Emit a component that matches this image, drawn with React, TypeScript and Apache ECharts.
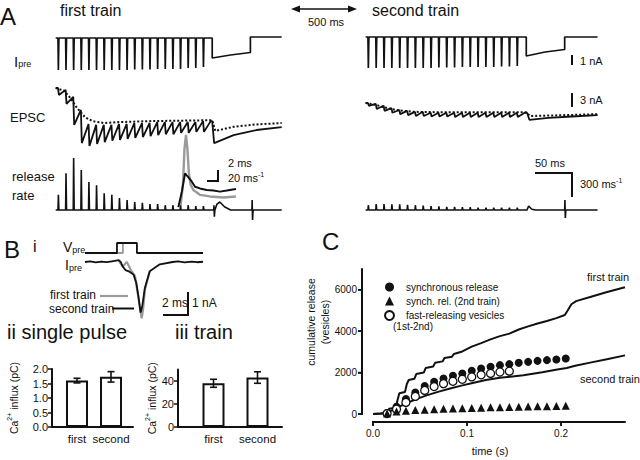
import React, { useEffect, useRef } from "react";
import * as echarts from "echarts";

const FONT = "'Liberation Sans', Arial, sans-serif";
const INK = "#111";
const GRAY = "#9a9a9a";

// ---------------- Panel A (ms, nA, ms^-1) ----------------
const stimTimes = [0, 10, 20, 30, 40, 50, 60, 70, 80, 90, 100, 110, 120, 130, 140, 150, 160, 170, 180, 190];
const ipreAmp1 = [3.2, 3.2, 3.2, 3.2, 3.2, 3.2, 3.2, 3.2, 3.2, 3.2, 3.15, 3.15, 3.15, 3.1, 3.1, 3.1, 3.1, 3.0, 3.0, 2.9];
const ipreAmp2 = [3.1, 3.1, 3.1, 3.1, 3.1, 3.1, 3.1, 3.1, 3.1, 3.05, 3.05, 3.05, 3.0, 3.0, 3.0, 3.0, 3.0, 2.95, 2.95, 2.9];
const ipreTail1 = [[196, 0], [202, 0], [202, -2.0], [226, -1.7], [252, -1.45], [252, 0.1], [293, 0.1]];
const ipreTail2 = [[196, 0], [202, 0], [202, -1.9], [226, -1.5], [251, -1.25], [251, 0], [293, 0]];

const epscPre1 = [0, -0.4, -1.9, -4.7, -7.7, -7.9, -7.9, -7.9, -7.7, -7.7, -7.5, -7.5, -7.5, -7.3, -7.3, -7.3, -7.3, -7.3, -7.3, -7.1];
const epscTrough1 = [-1.5, -3.4, -7.9, -11.8, -12.4, -12.0, -11.6, -11.3, -11.1, -10.9, -10.7, -10.5, -10.3, -10.1, -9.9, -9.9, -9.6, -9.6, -9.4, -9.4];
const epscTail1 = [[200, -7.1], [202, -7.1], [204.5, -11.8], [230, -10.1], [260, -9.0], [293, -8.4]];
const epscDot1 = [[-3, 0], [8, -0.6], [15, -1.9], [25, -4.3], [35, -6.2], [45, -7.1], [60, -7.5], [80, -7.3], [120, -7.1], [160, -7.0], [202, -6.9], [206, -9.2], [230, -8.3], [260, -7.8], [293, -7.5]];

const epscPre2 = [0, -0.2, -0.6, -1.1, -1.5, -1.7, -1.9, -1.9, -2.1, -2.1, -2.1, -2.1, -2.1, -2.1, -2.1, -2.1, -2.1, -2.1, -2.1, -2.1];
const epscTrough2 = [-0.6, -1.3, -1.7, -2.1, -2.4, -2.6, -2.8, -2.8, -2.9, -2.9, -2.9, -3.0, -3.0, -3.0, -3.0, -3.0, -3.0, -3.0, -3.0, -3.0];
const epscTail2 = [[200, -2.1], [203, -2.1], [206, -3.6], [230, -3.2], [260, -2.9], [293, -2.6]];
const epscDot2 = [[-3, 0], [10, -0.4], [20, -0.9], [30, -1.3], [40, -1.6], [60, -1.9], [100, -2.0], [202, -2.0], [207, -2.8], [230, -2.7], [293, -2.4]];

const relPeak1 = [190, 460, 650, 500, 350, 310, 210, 190, 150, 125, 100, 90, 75, 75, 60, 60, 60, 60, 50, 50];
const relTail1 = [[192, 0], [204, 0], [204.3, 60], [204.8, -85], [205.5, 0], [208, 70], [212, 100], [218, 40], [226, 0], [254, 0], [254.3, 125], [254.8, -125], [255.5, 0], [293, 0]];
const relPeak2 = [60, 75, 75, 70, 70, 65, 60, 55, 50, 45, 40, 40, 35, 35, 30, 30, 30, 30, 30, 30];
const relTail2 = [[192, 0], [203, 0], [205, 50], [209, 10], [214, 0], [251, 0], [251.3, 125], [251.8, -100], [252.5, 0], [293, 0]];

const insetGray = [[0.8, 0], [1.2, 40], [1.45, 105], [1.71, 131], [1.95, 105], [2.2, 60], [2.5, 38], [2.96, 28], [4.1, 19], [5.8, 16], [8.1, 14], [10.25, 16]];
const insetBlack = [[0.4, -4], [1.0, 25], [1.54, 59], [2.1, 52], [2.68, 44], [3.25, 34], [4.1, 31], [5.25, 28], [6.4, 27], [7.5, 25], [8.7, 27], [10.25, 30]];

// ---------------- Panel B i (ms, V step, nA) ----------------
const vpreBlack = [[0, 0], [2.37, 0], [2.37, 1], [3.85, 1], [3.85, 0], [8.75, 0]];
const vpreGray = [[2.37, 0], [2.81, 0], [2.81, 1], [3.85, 1]];
const ipreB_black = [[0, 0], [0.4, 0.03], [0.8, -0.02], [1.2, 0.02], [1.6, -0.01], [2.0, 0.03], [2.3, 0.06], [2.5, 0.08], [2.65, 0], [2.8, -0.2], [3.0, -0.35], [3.3, -0.42], [3.6, -0.55], [3.8, -0.9], [3.95, -1.45], [4.12, -2.2], [4.25, -1.9], [4.44, -1.13], [4.8, -0.4], [5.55, -0.1], [6.5, 0], [6.9, 0.03], [7.4, -0.02], [7.9, 0.02], [8.3, -0.01], [8.75, 0.01]];
const ipreB_gray = [[2.5, 0.05], [2.8, -0.2], [3.1, 0], [3.4, -0.35], [3.7, -0.6], [3.95, -1.5], [4.2, -2.45], [4.3, -2.1], [4.44, -1.2], [4.8, -0.4]];

// ---------------- Panel B ii / iii ----------------
const barCats = ["first", "second"];
const pulseMean = [1.6, 1.73];
const pulseErr = [0.08, 0.18];
const trainMean = [38, 43];
const trainErr = [3.5, 5];

// ---------------- Panel C (s, vesicles) ----------------
const firstTrainCum = [[0, 0], [0.008, 20], [0.015, 60], [0.017, 250], [0.024, 300], [0.026, 650], [0.028, 1000], [0.034, 1060], [0.036, 1450], [0.038, 1640], [0.044, 1700], [0.046, 1930], [0.054, 2000], [0.056, 2220], [0.064, 2290], [0.066, 2470], [0.074, 2540], [0.076, 2700], [0.084, 2760], [0.086, 2900], [0.095, 3020], [0.105, 3250], [0.115, 3420], [0.125, 3600], [0.135, 3760], [0.145, 3880], [0.155, 4080], [0.165, 4230], [0.175, 4370], [0.185, 4490], [0.195, 4630], [0.204, 4780], [0.207, 5000], [0.211, 5300], [0.216, 5450], [0.231, 5650], [0.249, 5890], [0.268, 6120]];
const secondTrainCum = [[0, 0], [0.01, 30], [0.02, 170], [0.027, 330], [0.036, 530], [0.046, 720], [0.057, 900], [0.07, 1080], [0.082, 1230], [0.094, 1370], [0.106, 1500], [0.12, 1640], [0.135, 1750], [0.16, 1870], [0.18, 2020], [0.196, 2150], [0.206, 2220], [0.215, 2330], [0.231, 2480], [0.25, 2660], [0.268, 2830]];
const stimTimesC = [0.015, 0.025, 0.035, 0.045, 0.055, 0.065, 0.075, 0.085, 0.095, 0.105, 0.115, 0.125, 0.135, 0.145, 0.155, 0.165, 0.175, 0.185, 0.195, 0.205];
const syncRelease = [50, 350, 720, 1040, 1350, 1556, 1716, 1845, 1957, 2085, 2197, 2278, 2358, 2406, 2470, 2518, 2566, 2600, 2630, 2680];
const syncRelease2nd = [30, 120, 160, 190, 210, 230, 250, 265, 280, 295, 305, 320, 330, 340, 350, 360, 370, 380, 390, 400];
const fastReleasing = [20, 230, 560, 850, 1140, 1326, 1466, 1580, 1677, 1790, 1892, 1958, 2028, 2066];
const cTimeTicks = [0, 0.1, 0.2];
const cReleaseTicks = [0, 2000, 4000, 6000];
const cTimeMax = 0.268;
const cReleaseMax = 7000;

// panel C plot box (pixels)
const C_LEFT = 373;
const C_TOP = 269;
const C_W = 252;
const C_H = 145;

function spikeTrain(times: number[], amps: number[], sign: number) {
  const pts: number[][] = [[-3, 0]];
  times.forEach((t, i) => {
    pts.push([t, 0], [t + 0.5, sign * amps[i]], [t + 1.2, 0]);
  });
  return pts;
}
function sawtooth(times: number[], pre: number[], trough: number[]) {
  const pts: number[][] = [[-3, 0]];
  times.forEach((t, i) => {
    pts.push([t, pre[i]], [t + 1.2, trough[i]]);
  });
  return pts;
}

function buildOption() {
  const grid: any[] = [];
  const xAxis: any[] = [];
  const yAxis: any[] = [];
  const series: any[] = [];
  const add = (box: any, xa: any, ya: any) => {
    const i = grid.length;
    grid.push({ ...box, containLabel: false, outerBoundsMode: "none" });
    xAxis.push({ gridIndex: i, ...xa });
    yAxis.push({ gridIndex: i, ...ya });
    return i;
  };
  const hid = (min: number, max: number) => ({ type: "value", min, max, show: false });
  const trace = (i: number, data: any[], color: string, width: number, extra: any = {}, z = 3) =>
    series.push({
      type: "line", xAxisIndex: i, yAxisIndex: i, data, showSymbol: false, symbol: "none",
      clip: false, silent: true, animation: false, z,
      lineStyle: { color, width, ...extra },
    });

  const visAxis = (min: number, max: number, interval: number, fmt: (v: number) => string, labels: any, extra: any = {}) => ({
    type: "value", min, max, interval,
    axisLine: { show: true, onZero: false, lineStyle: { color: INK, width: 2 } },
    axisTick: { show: true, length: 4, lineStyle: { color: INK, width: 1.5 } },
    axisLabel: { color: INK, fontFamily: FONT, formatter: fmt, ...labels },
    splitLine: { show: false },
    ...extra,
  });
  const lineOnly = (min: number, max: number, showLine: boolean) => ({
    type: "value", min, max,
    axisLine: { show: showLine, onZero: false, lineStyle: { color: INK, width: 2 } },
    axisTick: { show: false }, axisLabel: { show: false }, splitLine: { show: false },
  });

  // Panel A grids
  const gI1 = add({ left: 55.7, top: 32, width: 226, height: 42 }, hid(-3, 293), hid(-3.6, 0.6));
  const gI2 = add({ left: 365.6, top: 31, width: 232, height: 42 }, hid(-3, 293), hid(-3.6, 0.6));
  const gE1 = add({ left: 55.7, top: 83.3, width: 226, height: 65.4 }, hid(-3, 293), hid(-13, 1));
  const gE2 = add({ left: 365.6, top: 98.3, width: 232, height: 65.4 }, hid(-3, 293), hid(-13, 1));
  const gR1 = add({ left: 55.7, top: 146, width: 226, height: 76 }, hid(-3, 293), hid(-150, 800));
  const gR2 = add({ left: 365.6, top: 146, width: 232, height: 76 }, hid(-3, 293), hid(-150, 800));
  const gIn = add({ left: 176, top: 130.1, width: 62, height: 85.6 }, hid(0, 10.6), hid(-20, 140));

  trace(gI1, [...spikeTrain(stimTimes, ipreAmp1, -1), ...ipreTail1], INK, 1.7);
  trace(gI2, [...spikeTrain(stimTimes, ipreAmp2, -1), ...ipreTail2], INK, 1.7);
  trace(gE1, epscDot1, INK, 2, { type: "dotted" });
  trace(gE1, [...sawtooth(stimTimes, epscPre1, epscTrough1), ...epscTail1], INK, 1.8);
  trace(gE2, epscDot2, INK, 2, { type: "dotted" });
  trace(gE2, [...sawtooth(stimTimes, epscPre2, epscTrough2), ...epscTail2], INK, 1.8);
  trace(gR1, [...spikeTrain(stimTimes, relPeak1, 1), ...relTail1], INK, 1.6);
  trace(gR2, [...spikeTrain(stimTimes, relPeak2, 1), ...relTail2], INK, 1.6);
  trace(gIn, insetGray, GRAY, 2.4, {}, 4);
  trace(gIn, insetBlack, INK, 2, {}, 5);

  // Panel B i
  const gV = add({ left: 85, top: 240, width: 118, height: 16 }, hid(0, 8.75), hid(-0.3, 1.3));
  const gBI = add({ left: 85, top: 252.8, width: 118, height: 69 }, hid(0, 8.75), hid(-2.6, 0.4));
  trace(gV, vpreGray, GRAY, 1.8, {}, 3);
  trace(gV, vpreBlack, INK, 1.8, {}, 4);
  trace(gBI, ipreB_gray, GRAY, 2.2, {}, 3);
  trace(gBI, ipreB_black, INK, 1.8, {}, 4);

  const caName = "{n|Ca}{s|2+}{n| influx (pC)}";
  const caRich = {
    n: { fontSize: 10.5, fontFamily: FONT, color: INK, verticalAlign: "bottom", lineHeight: 13 },
    s: { fontSize: 7, fontFamily: FONT, color: INK, verticalAlign: "top", lineHeight: 13 },
  };
  const caNameOpts = (gap: number) => ({
    name: caName, nameLocation: "middle", nameGap: gap, nameRotate: 90, nameTextStyle: { rich: caRich },
  });
  const catX = {
    type: "category", data: barCats,
    axisLine: { show: false }, axisTick: { show: false },
    axisLabel: { interval: 0, hideOverlap: false, fontSize: 11.5, margin: 6, color: INK, fontFamily: FONT },
  };
  const errorSeries = (gi: number, mean: number[], err: number[]) => ({
    type: "custom", xAxisIndex: gi, yAxisIndex: gi, z: 6, silent: true,
    data: mean.map((m, i) => [i, m - err[i], m + err[i]]),
    encode: { x: 0, y: [1, 2] },
    renderItem: (params: any, api: any) => {
      const x = api.value(0);
      const lo = api.coord([x, api.value(1)]);
      const hi = api.coord([x, api.value(2)]);
      const c = 3.5;
      const st = { stroke: INK, lineWidth: 1.6 };
      return {
        type: "group",
        children: [
          { type: "line", shape: { x1: lo[0], y1: lo[1], x2: hi[0], y2: hi[1] }, style: st },
          { type: "line", shape: { x1: lo[0] - c, y1: lo[1], x2: lo[0] + c, y2: lo[1] }, style: st },
          { type: "line", shape: { x1: hi[0] - c, y1: hi[1], x2: hi[0] + c, y2: hi[1] }, style: st },
        ],
      };
    },
  });

  // B ii
  add({ left: 52, top: 369, width: 81, height: 58 }, lineOnly(0, 1, true),
    visAxis(0, 2, 0.5, (v) => v.toFixed(1), { fontSize: 11, margin: 4 }, caNameOpts(33)));
  const gB2 = add({ left: 60, top: 369, width: 68, height: 58 }, catX, hid(0, 2));
  series.push({ type: "bar", xAxisIndex: gB2, yAxisIndex: gB2, data: pulseMean, barWidth: 22, z: 4, silent: true,
    itemStyle: { color: "#fff", borderColor: INK, borderWidth: 2 } });
  series.push(errorSeries(gB2, pulseMean, pulseErr));

  // B iii
  add({ left: 178, top: 369.5, width: 104, height: 57.5 }, lineOnly(0, 1, true),
    visAxis(0, 50, 20, (v) => v.toFixed(0), { fontSize: 11, margin: 4, showMaxLabel: false }, caNameOpts(21)));
  const gB3 = add({ left: 191.5, top: 369.5, width: 88, height: 57.5 }, catX, hid(0, 50));
  series.push({ type: "bar", xAxisIndex: gB3, yAxisIndex: gB3, data: trainMean, barWidth: 22, z: 4, silent: true,
    itemStyle: { color: "#fff", borderColor: INK, borderWidth: 2 } });
  series.push(errorSeries(gB3, trainMean, trainErr));

  // Panel C: label frames (tick labels from the library axes)
  add({ left: C_LEFT - 11, top: C_TOP, width: C_W + 11, height: C_H }, lineOnly(0, 1, false),
    visAxis(0, cReleaseMax, 2000, (v) => v.toFixed(0), { fontSize: 10, margin: 5, showMaxLabel: false }));
  add({ left: C_LEFT, top: C_TOP + 8, width: C_W, height: C_H },
    visAxis(0, cTimeMax, 0.1, (v) => v.toFixed(1), { fontSize: 10, margin: 6, showMaxLabel: false }, {
      name: "time (s)", nameLocation: "middle", nameGap: 23,
      nameTextStyle: { fontSize: 11, color: INK, fontFamily: FONT, padding: [0, 18, 0, 0] },
    }),
    lineOnly(0, 1, false));
  const gC = add({ left: C_LEFT, top: C_TOP, width: C_W, height: C_H }, hid(0, cTimeMax), hid(0, cReleaseMax));

  trace(gC, firstTrainCum, INK, 2);
  trace(gC, secondTrainCum, INK, 2);
  series.push({
    type: "scatter", name: "synchronous release", xAxisIndex: gC, yAxisIndex: gC, z: 5,
    data: stimTimesC.map((t, i) => [t, syncRelease[i]]), symbol: "circle", symbolSize: 8,
    itemStyle: { color: INK, opacity: 1 },
  });
  series.push({
    type: "scatter", name: "fast-releasing vesicles", xAxisIndex: gC, yAxisIndex: gC, z: 6,
    data: fastReleasing.map((v, i) => [stimTimesC[i], v]), symbol: "circle", symbolSize: 8,
    itemStyle: { color: "#fff", borderColor: INK, borderWidth: 1.3, opacity: 1 },
  });
  series.push({
    type: "scatter", name: "synch. rel. (2nd train)", xAxisIndex: gC, yAxisIndex: gC, z: 6,
    data: stimTimesC.map((t, i) => [t, syncRelease2nd[i]]), symbol: "triangle", symbolSize: 8,
    itemStyle: { color: INK, opacity: 1 },
  });

  const txt = (x: number, y: number, text: string, size: number, extra: any = {}) => ({
    type: "text", x, y, silent: true, z: 10,
    style: { text, fontSize: size, fontFamily: FONT, fill: INK, align: "left", verticalAlign: "middle", ...extra },
  });
  const subRich = (big: number, small: number) => ({
    n: { fontSize: big, fontFamily: FONT, fill: INK, color: INK, verticalAlign: "bottom", lineHeight: big + 2 },
    b: { fontSize: small, fontFamily: FONT, fill: INK, color: INK, verticalAlign: "bottom", lineHeight: big - 2 },
  });
  const supRich = (big: number, small: number) => ({
    n: { fontSize: big, fontFamily: FONT, color: INK, verticalAlign: "bottom", lineHeight: big + 2 },
    s: { fontSize: small, fontFamily: FONT, color: INK, verticalAlign: "top", lineHeight: big + 2 },
  });
  const ln = (x1: number, y1: number, x2: number, y2: number, w = 2, color = INK, z = 10) => ({
    type: "line", silent: true, z, shape: { x1, y1, x2, y2 }, style: { stroke: color, lineWidth: w },
  });

  // panel C offset axis lines and ticks (axis decoration, from the plot box and axis ranges)
  const cY = (v: number) => C_TOP + C_H * (1 - v / cReleaseMax);
  const cX = (t: number) => C_LEFT + C_W * (t / cTimeMax);
  const axX = C_LEFT - 11;
  const axY = C_TOP + C_H + 8;
  const cAxes: any[] = [
    ln(axX, cY(0) + 1, axX, C_TOP, 1.8, INK, 100),
    ln(C_LEFT - 1, axY, C_LEFT + C_W, axY, 1.8, INK, 100),
    ...cReleaseTicks.map((v) => ln(axX - 4, cY(v), axX, cY(v), 1.5, INK, 100)),
    ...cTimeTicks.map((t) => ln(cX(t), axY, cX(t), axY + 4, 1.5, INK, 100)),
  ];

  const graphic: any[] = [
    // Panel A
    txt(0, 16, "A", 24),
    txt(60, 10, "first train", 16),
    txt(372, 10, "second train", 16),
    ln(297, 9, 351, 9, 1.6),
    { type: "polygon", silent: true, z: 10, shape: { points: [[291, 9], [300, 5.5], [300, 12.5]] }, style: { fill: INK } },
    { type: "polygon", silent: true, z: 10, shape: { points: [[357, 9], [348, 5.5], [348, 12.5]] }, style: { fill: INK } },
    txt(326, 22, "500 ms", 11, { align: "center" }),
    txt(14, 60, "{n|I}{b|pre}", 14, { rich: subRich(15, 9) }),
    txt(10, 117, "EPSC", 13),
    txt(12, 176, "release", 13),
    txt(12, 195, "rate", 13),
    ln(572, 55, 572, 65),
    txt(580, 61, "1 nA", 11),
    ln(572, 93, 572, 107),
    txt(580, 100, "3 nA", 11),
    { type: "polyline", silent: true, z: 10, shape: { points: [[535, 173], [572, 173], [572, 197]] }, style: { stroke: INK, lineWidth: 2, fill: "none" } },
    txt(535, 163, "50 ms", 11),
    txt(580, 183, "{n|300 ms}{s|-1}", 11, { rich: supRich(11, 7) }),
    { type: "polyline", silent: true, z: 10, shape: { points: [[207, 181], [218, 181], [218, 170]] }, style: { stroke: INK, lineWidth: 2, fill: "none" } },
    txt(228, 163, "2 ms", 11),
    txt(228, 177, "{n|20 ms}{s|-1}", 11, { rich: supRich(11, 7) }),
    // Panel B
    txt(4, 249, "B", 24),
    txt(33, 246, "i", 16),
    txt(63, 246, "{n|V}{b|pre}", 14, { rich: subRich(14, 9) }),
    txt(65, 264, "{n|I}{b|pre}", 14, { rich: subRich(14, 9) }),
    txt(50, 295, "first train", 12),
    txt(49, 309, "second train", 12),
    ln(100, 296, 128, 296, 2.2, GRAY),
    ln(112, 308.5, 134, 308.5, 2),
    { type: "polyline", silent: true, z: 10, shape: { points: [[163, 315], [188, 315], [188, 292]] }, style: { stroke: INK, lineWidth: 2, fill: "none" } },
    txt(162, 303, "2 ms", 12),
    txt(192, 303, "1 nA", 12),
    txt(7, 332, "ii single pulse", 20),
    txt(175, 332, "iii train", 20),
    // Panel C
    ...cAxes,
    txt(322, 241, "C", 24),
    txt(587, 277, "first train", 11),
    txt(580, 379, "second train", 11),
    txt(393, 326, "(1st-2nd)", 10),
    { ...txt(311, 322, "cumulative release", 10.5, { align: "center" }), rotation: Math.PI / 2 },
    { ...txt(325, 322, "(vesicles)", 10.5, { align: "center" }), rotation: Math.PI / 2 },
  ];

  return {
    animation: false,
    backgroundColor: "#fff",
    textStyle: { fontFamily: FONT, color: INK },
    grid, xAxis, yAxis, series, graphic,
    legend: {
      data: ["synchronous release", "synch. rel. (2nd train)", "fast-releasing vesicles"],
      orient: "vertical", left: 379, top: 277, itemWidth: 9, itemHeight: 9, itemGap: 4,
      selectedMode: false,
      textStyle: { fontSize: 10, color: INK, fontFamily: FONT, padding: [0, 0, 0, 7] },
    },
  };
}

export default function App() {
  const ref = useRef<HTMLDivElement>(null);
  useEffect(() => {
    const chart = echarts.init(ref.current!, null, { renderer: "svg" });
    chart.setOption(buildOption() as any);
    return () => chart.dispose();
  }, []);
  return (
    <div
      ref={ref}
      style={{ position: "fixed", left: 0, top: 0, width: 640, height: 460, background: "#fff" }}
    />
  );
}
